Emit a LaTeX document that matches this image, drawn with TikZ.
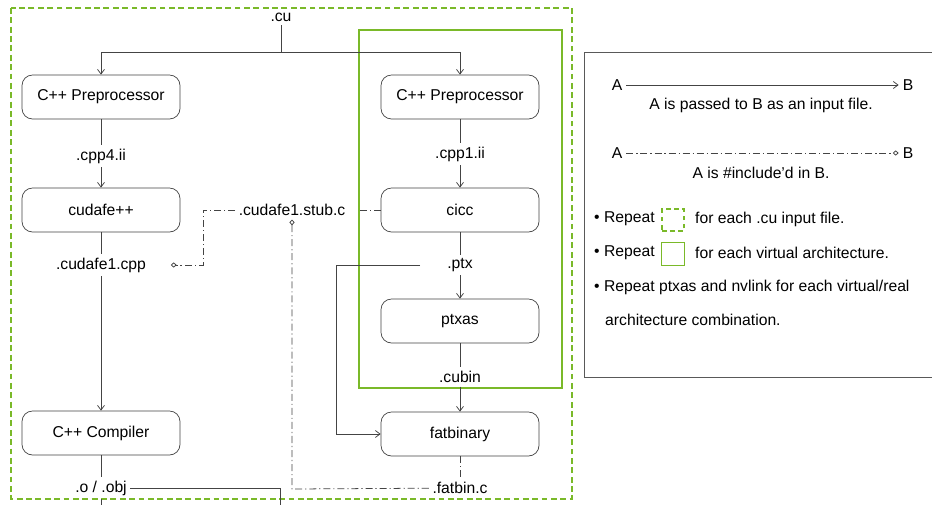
\documentclass[tikz,border=0pt]{standalone}
\usepackage{fontspec}
\setmainfont{Liberation Sans}
\usetikzlibrary{arrows.meta}

\definecolor{nvgreen}{HTML}{7AB929}
\definecolor{linegray}{HTML}{444444}

\tikzset{
	proc/.style={draw=black!75,line width=0.6pt,rounded corners=9pt,minimum width=4.74cm,minimum height=1.32cm},
	file/.style={inner sep=3pt},
	plain/.style={draw=linegray,line width=0.65pt},
	pass/.style={plain,-{Straight Barb[length=4pt,width=6pt]}},
	incl/.style={draw=linegray,line width=0.65pt,dash pattern=on 6pt off 2.5pt on 1pt off 2.5pt},
	inclto/.style={incl,-{Diamond[open,length=5pt,width=4.5pt]}},
}

\begin{document}
\begin{tikzpicture}[x=0.03cm,y=-0.03cm,font=\fontsize{13.4}{15}\selectfont]
	\useasboundingbox (0,0) rectangle (932,504);

	% repeat frames
	\draw[nvgreen,line width=1.6pt,dash pattern=on 5pt off 3pt] (11,8) rectangle (572,499);
	\draw[nvgreen,line width=1.6pt] (359,30) rectangle (562,388);

	\node[file] (cu) at (281,17) {.cu};
	\coordinate (split) at (281,52);

	% host side
	\node[proc] (pre4) at (101,97) {C++ Preprocessor};
	\node[file] (cpp4) at (101,156) {.cpp4.ii};
	\node[proc] (fe) at (101,210) {cudafe++};
	\node[file] (fecpp) at (101,265) {.cudafe1.cpp};
	\node[proc] (cxx) at (101,433) {C++ Compiler};
	\node[file] (obj) at (101,488) {.o / .obj};

	% device side
	\node[proc] (pre1) at (460,97) {C++ Preprocessor};
	\node[file] (cpp1) at (460,154) {.cpp1.ii};
	\node[proc] (cicc) at (460,210) {cicc};
	\node[file] (ptx) at (460,265) {.ptx};
	\node[proc] (ptxas) at (460,321) {ptxas};
	\node[file] (cubin) at (460,377) {.cubin};
	\node[proc] (fatbin) at (460,434) {fatbinary};
	\node[file] (fatbinc) at (460,488) {.fatbin.c};

	\node[file] (stub) at (292,210) {.cudafe1.stub.c};

	\coordinate (ptxturn) at (336,265);
	\coordinate (objturn) at (280,488);
	\coordinate (objout) at (280,512);
	\coordinate (cxxout) at (101,512);
	\coordinate (stubturn) at (203,210);
	\coordinate (stubdown) at (203,265);
	\coordinate (fatturn) at (292,489);

\draw[plain] (cu) -- (split);
\draw[pass] (split) -| (pre4);
\draw[pass] (split) -| (pre1);
\draw[plain] (pre4) -- (cpp4);
\draw[pass] (cpp4) -- (fe);
\draw[plain] (fe) -- (fecpp);
\draw[pass] (fecpp) -- (cxx);
\draw[plain] (cxx) -- (obj);
\draw[plain] (obj) -- (cxxout);
\draw[plain] (obj) -- (objturn) -- (objout);

\draw[plain] (pre1) -- (cpp1);
\draw[pass] (cpp1) -- (cicc);
\draw[plain] (cicc) -- (ptx);
\draw[pass] (ptx) -- (ptxas);
\draw[plain] (ptxas) -- (cubin);
\draw[pass] (cubin) -- (fatbin);
\draw[pass,shorten <=20pt] (ptx) -- (ptxturn) |- (fatbin);

\draw[incl,shorten >=9pt] (cicc) -- (stub);
\draw[inclto,shorten >=18pt] (stub) -- (stubturn) -- (stubdown) -- (fecpp);
\draw[incl] (fatbin) -- (fatbinc);
\draw[inclto] (fatbinc) -- (fatturn) -- (stub);

	% legend
	\draw[black!65,line width=0.8pt] (584,52) rectangle (945,377);
	\node (la1) at (617,85) {A};
	\node (lb1) at (908,85) {B};
	\node (lt1) at (761,105) {A is passed to B as an input file.};
	\node (la2) at (617,153) {A};
	\node (lb2) at (908,153) {B};
	\node (lt2) at (761,173) {A is \#include'd in B.};
\draw[pass] (la1) -- (lb1);
\draw[inclto] (la2) -- (lb2);

	\node[anchor=west,inner sep=0pt] (rep1) at (594,219) {\textbullet\ Repeat};
	\node[draw=nvgreen,line width=1.6pt,dash pattern=on 4pt off 3pt,minimum width=0.66cm,minimum height=0.66cm,inner sep=0pt] (cubox) at (673,220) {};
	\node[anchor=west,inner sep=0pt] (rep1t) at (695,219) {for each .cu input file.};
	\node[anchor=west,inner sep=0pt] (rep2) at (594,253) {\textbullet\ Repeat};
	\node[draw=nvgreen,line width=1.6pt,minimum width=0.69cm,minimum height=0.69cm,inner sep=0pt] (archbox) at (673,254) {};
	\node[anchor=west,inner sep=0pt] (rep2t) at (695,253) {for each virtual architecture.};
	\node[anchor=west,inner sep=0pt] (rep3) at (594,287) {\textbullet\ Repeat ptxas and nvlink for each virtual/real};
	\node[anchor=west,inner sep=0pt] (rep3b) at (605,320) {architecture combination.};
\end{tikzpicture}
\end{document}
